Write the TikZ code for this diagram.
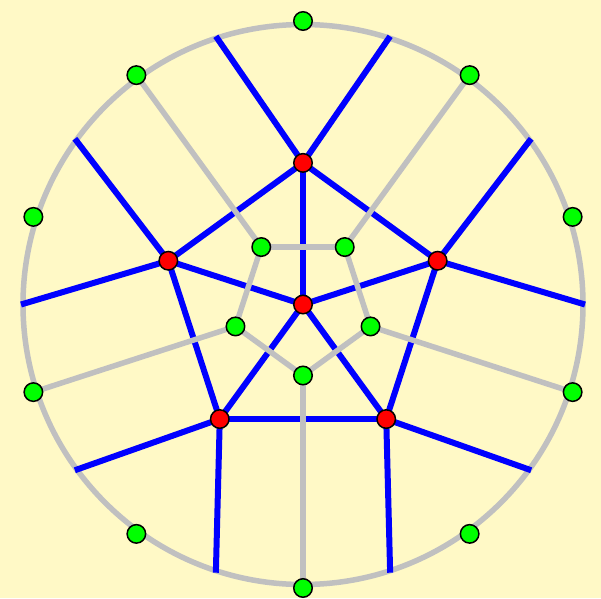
\documentclass[tikz,border=0pt]{standalone}
\definecolor{bgyellow}{RGB}{255,249,198}
\definecolor{edgegray}{RGB}{192,192,192}
\tikzset{
  rednode/.style={circle,draw=black,line width=1.5pt,fill=red,minimum size=18.5pt,inner sep=0pt},
  greennode/.style={circle,draw=black,line width=1.5pt,fill=green,minimum size=18.5pt,inner sep=0pt},
  blueedge/.style={draw=blue,line width=6pt},
  grayedge/.style={draw=edgegray,line width=5.5pt}
}
\begin{document}
\begin{tikzpicture}[x=1pt,y=1pt]
\fill[bgyellow] (0,0) rectangle (601,598);
\useasboundingbox (0,0) rectangle (601,598);
\begin{scope}[shift={(303,293.5)}]
  % coordinates
  \coordinate (c) at (0,0);
  \foreach \k in {0,...,4} {
    \coordinate (rp\k) at ({90+72*\k}:141.6);
    \coordinate (gp\k) at ({126+72*\k}:71);
  }
  \foreach \k in {0,...,9} {
    \coordinate (op\k) at ({90+36*\k}:283.5);
    \coordinate (e\k) at ({36*\k}:282);
  }
  % outer circle
  \draw[grayedge] (c) circle (280);
  % blue edges
  \foreach \k in {0,...,4} {
    \pgfmathtruncatemacro{\n}{mod(\k+1,5)}
    \draw[blueedge] (c) -- (rp\k);
    \draw[blueedge] (rp\k) -- (rp\n);
  }
  \draw[blueedge] (rp0) -- (e2);  \draw[blueedge] (rp0) -- (e3);
  \draw[blueedge] (rp1) -- (e4);  \draw[blueedge] (rp1) -- (e5);
  \draw[blueedge] (rp2) -- (e6);  \draw[blueedge] (rp2) -- (e7);
  \draw[blueedge] (rp3) -- (e8);  \draw[blueedge] (rp3) -- (e9);
  \draw[blueedge] (rp4) -- (e0);  \draw[blueedge] (rp4) -- (e1);
  % gray edges
  \foreach \k in {0,...,4} {
    \pgfmathtruncatemacro{\n}{mod(\k+1,5)}
    \pgfmathtruncatemacro{\o}{2*\k+1}
    \draw[grayedge] (gp\k) -- (gp\n);
    \draw[grayedge] (gp\k) -- (op\o);
  }
  % nodes
  \node[rednode] (rc) at (c) {};
  \foreach \k in {0,...,4} {
    \node[rednode] (r\k) at (rp\k) {};
    \node[greennode] (g\k) at (gp\k) {};
  }
  \foreach \k in {0,...,9} {
    \node[greennode] (o\k) at (op\k) {};
  }
\end{scope}
\end{tikzpicture}
\end{document}
